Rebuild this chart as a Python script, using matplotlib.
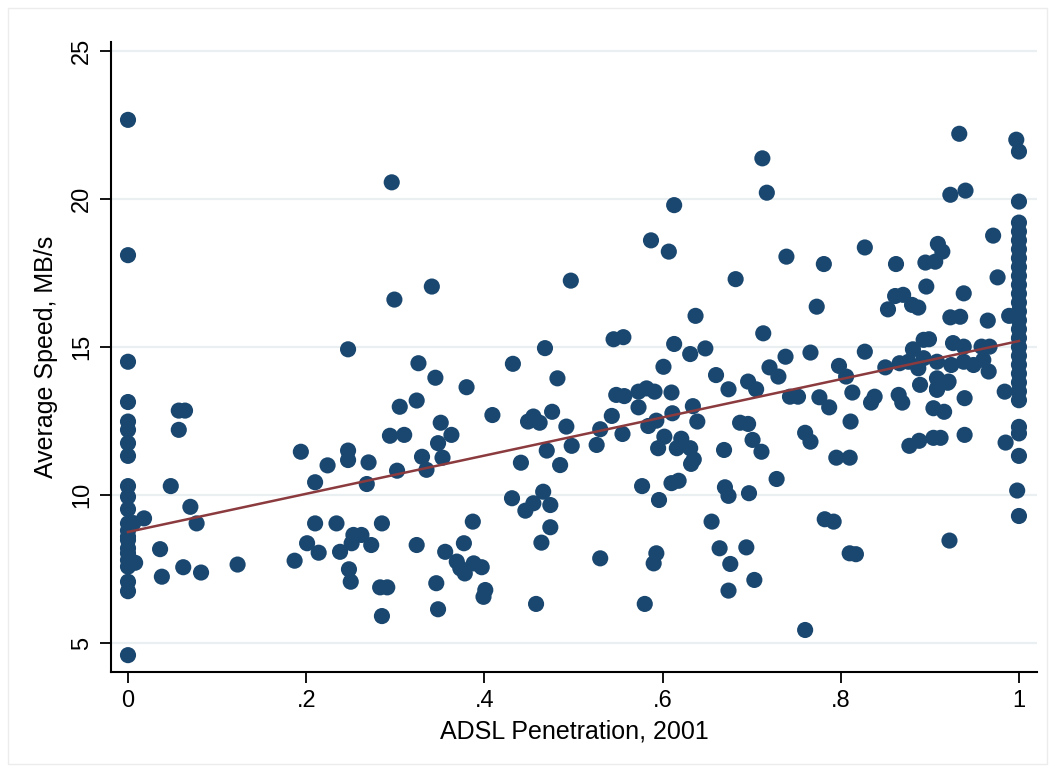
import numpy as np
import matplotlib
matplotlib.use('Agg')
import matplotlib.pyplot as plt
from matplotlib.patches import Rectangle

plt.rcParams['font.family'] = ['Liberation Sans', 'DejaVu Sans']

# ADSL penetration (share of households, 2001) and average download speed (MB/s)
adsl = [
    # zero-penetration areas
    0, 0, 0, 0, 0, 0, 0, 0, 0, 0, 0, 0, 0, 0, 0, 0, 0, 0, 0, 0, 0, 0,
    0.006, 0.018, 0.008, 0.057, 0.064, 0.057, 0.048, 0.070, 0.077, 0.036,
    0.038, 0.062, 0.082, 0.123,
    # 0.18 - 0.31
    0.187, 0.194, 0.210, 0.201, 0.214, 0.210, 0.234, 0.224, 0.247, 0.247,
    0.270, 0.268, 0.285, 0.238, 0.251, 0.253, 0.262, 0.273, 0.248, 0.250,
    0.283, 0.291, 0.285, 0.294, 0.302, 0.305, 0.247, 0.296, 0.299,
    # 0.31 - 0.40
    0.341, 0.326, 0.345, 0.380, 0.324, 0.310, 0.351, 0.363, 0.348, 0.330,
    0.353, 0.335, 0.387, 0.324, 0.356, 0.377, 0.369, 0.378, 0.388, 0.397,
    0.373, 0.346, 0.401, 0.399, 0.348,
    # 0.40 - 0.50
    0.409, 0.432, 0.468, 0.482, 0.497, 0.449, 0.455, 0.462, 0.476, 0.492,
    0.470, 0.441, 0.498, 0.485, 0.431, 0.446, 0.455, 0.466, 0.474, 0.474,
    0.464, 0.458,
    # 0.50 - 0.64
    0.526, 0.530, 0.543, 0.555, 0.548, 0.557, 0.573, 0.582, 0.591, 0.610,
    0.573, 0.611, 0.584, 0.593, 0.545, 0.556, 0.613, 0.601, 0.587, 0.607,
    0.613, 0.530, 0.577, 0.596, 0.610, 0.618, 0.593, 0.590, 0.580,
    0.602, 0.595, 0.616, 0.621, 0.631, 0.635, 0.632,
    # 0.63 - 0.72
    0.631, 0.648, 0.660, 0.637, 0.682, 0.634, 0.639, 0.674, 0.696, 0.705,
    0.669, 0.687, 0.696, 0.701, 0.711, 0.670, 0.674, 0.697, 0.655, 0.664,
    0.694, 0.676, 0.703, 0.674,
    # 0.71 - 0.80
    0.712, 0.717, 0.713, 0.739, 0.781, 0.773, 0.766, 0.738, 0.720, 0.730,
    0.798, 0.806, 0.743, 0.752, 0.776, 0.787, 0.760, 0.766, 0.728, 0.782,
    0.792, 0.760, 0.795,
    # 0.80 - 0.90
    0.813, 0.834, 0.838, 0.865, 0.869, 0.889, 0.908, 0.920, 0.939, 0.811,
    0.810, 0.810, 0.817, 0.827, 0.827, 0.850, 0.853, 0.861, 0.870, 0.880,
    0.887, 0.862, 0.895, 0.906, 0.909, 0.914, 0.896, 0.866, 0.876, 0.881,
    0.893, 0.899, 0.877, 0.888, 0.887, 0.893, 0.908,
    # 0.90 - 0.99
    0.904, 0.916, 0.904, 0.912, 0.922, 0.923, 0.940, 0.933, 0.938, 0.923,
    0.934, 0.926, 0.938, 0.958, 0.967, 0.924, 0.938, 0.949, 0.960, 0.966,
    0.908, 0.921, 0.908, 0.939, 0.971, 0.976, 0.965, 0.989, 0.984, 0.985,
    0.997,
    # full penetration
    1, 1, 1, 1, 1, 1, 1, 1, 1, 1, 1, 1, 1, 1, 1, 1, 1, 1, 1, 1, 1, 1, 1,
    1, 1, 1, 0.998, 1,
]

speed = [
    22.67, 18.1, 14.5, 13.14, 12.48, 12.2, 11.75, 11.32, 10.3, 9.94, 9.52,
    9.04, 8.8, 8.59, 8.48, 8.2, 8.03, 7.80, 7.58, 7.07, 6.75, 4.59,
    9.05, 9.21, 7.71, 12.85, 12.85, 12.2, 10.3, 9.6, 9.04, 8.17,
    7.24, 7.56, 7.38, 7.65,
    7.78, 11.46, 10.43, 8.37, 8.05, 9.04, 9.04, 11.0, 11.5, 11.18,
    11.1, 10.37, 9.04, 8.08, 8.37, 8.65, 8.65, 8.31, 7.49, 7.07,
    6.88, 6.88, 5.91, 12.0, 10.82, 12.98, 14.92, 20.56, 16.6,
    17.04, 14.45, 13.96, 13.64, 13.19, 12.03, 12.44, 12.03, 11.75, 11.29,
    11.26, 10.85, 9.1, 8.31, 8.08, 8.37, 7.75, 7.35, 7.69, 7.56,
    7.52, 7.02, 6.79, 6.56, 6.14,
    12.7, 14.43, 14.96, 13.94, 17.24, 12.48, 12.65, 12.44, 12.81, 12.31,
    11.5, 11.09, 11.66, 11.01, 9.89, 9.47, 9.72, 10.11, 9.66, 8.91,
    8.39, 6.32,
    11.69, 12.22, 12.67, 12.06, 13.38, 13.34, 13.49, 13.6, 13.49, 13.46,
    12.96, 12.76, 12.33, 12.51, 15.26, 15.33, 15.1, 14.33, 18.6, 18.22,
    19.79, 7.86, 10.3, 9.83, 10.4, 10.48, 8.03, 7.69, 6.32,
    11.97, 11.58, 11.58, 11.9, 11.58, 11.2, 11.05,
    14.76, 14.95, 14.05, 16.05, 17.29, 13.0, 12.48, 13.57, 13.83, 13.57,
    11.52, 12.44, 12.4, 11.86, 11.46, 10.26, 9.97, 10.06, 9.1, 8.2,
    8.23, 7.67, 7.13, 6.77,
    21.37, 20.21, 15.46, 18.05, 17.8, 16.36, 14.81, 14.67, 14.31, 14.0,
    14.36, 14.0, 13.32, 13.32, 13.3, 12.96, 12.1, 11.8, 10.54, 9.18,
    9.1, 5.44, 11.26,
    13.46, 13.12, 13.32, 13.38, 13.12, 13.72, 13.6, 13.79, 13.27, 12.48,
    11.26, 8.03, 8.0, 18.36, 14.84, 14.31, 16.27, 16.72, 16.76, 16.42,
    16.33, 17.8, 17.85, 17.88, 18.48, 18.22, 17.04, 14.45, 14.5, 14.92,
    15.24, 15.26, 11.66, 11.83, 14.28, 14.62, 14.5,
    12.93, 12.81, 11.93, 11.93, 8.46, 20.14, 20.28, 22.2, 16.81, 16.0,
    16.02, 15.13, 15.01, 15.01, 15.01, 14.39, 14.5, 14.39, 14.56, 14.17,
    13.94, 13.83, 13.55, 12.03, 18.76, 17.35, 15.89, 16.05, 13.49, 11.77,
    22.0,
    21.6, 19.91, 19.2, 18.9, 18.6, 18.3, 18.0, 17.7, 17.4, 17.1, 16.8,
    16.5, 16.2, 15.9, 15.6, 15.3, 15.0, 14.7, 14.4, 14.1, 13.8, 13.5,
    13.2, 12.3, 12.08, 11.32, 10.15, 9.29,
]

# linear fit endpoints
fit_x = [0, 1]
fit_y = [8.75, 15.2]

x_ticks = [0, 0.2, 0.4, 0.6, 0.8, 1]
x_tick_labels = ['0', '.2', '.4', '.6', '.8', '1']
y_ticks = [5, 10, 15, 20, 25]

navy = '#1a476f'
maroon = '#8b3a3e'

fig = plt.figure(figsize=(10.55, 7.72), dpi=100)
fig.patch.set_facecolor('white')
fig.patches.append(Rectangle((0.008, 0.010), 0.984, 0.980, transform=fig.transFigure,
                             fill=False, edgecolor='#ececec', linewidth=1.0))

ax = fig.add_axes([0.1052, 0.1295, 0.8777, 0.8161])

for yt in y_ticks:
    ax.axhline(yt, color='#eaeff2', linewidth=1.6, zorder=0)

ax.scatter(adsl, speed, s=135, color=navy, edgecolors='none', zorder=2)
ax.plot(fit_x, fit_y, color=maroon, linewidth=1.8, zorder=3)

ax.set_xlim(-0.0191, 1.0202)
ax.set_ylim(4.02, 25.3)

ax.set_xticks(x_ticks)
ax.set_xticklabels(x_tick_labels)
ax.set_yticks(y_ticks)
ax.set_yticklabels([str(v) for v in y_ticks], rotation=90, va='center')

ax.tick_params(axis='both', direction='out', length=8, width=1.3,
               labelsize=17, colors='black', pad=5)

for side in ['top', 'right']:
    ax.spines[side].set_visible(False)
for side in ['left', 'bottom']:
    ax.spines[side].set_linewidth(1.5)

ax.set_xlabel('ADSL Penetration, 2001', fontsize=18, labelpad=5)
ax.set_ylabel('Average Speed, MB/s', fontsize=18, labelpad=9)

plt.savefig('out.png', dpi=100)
